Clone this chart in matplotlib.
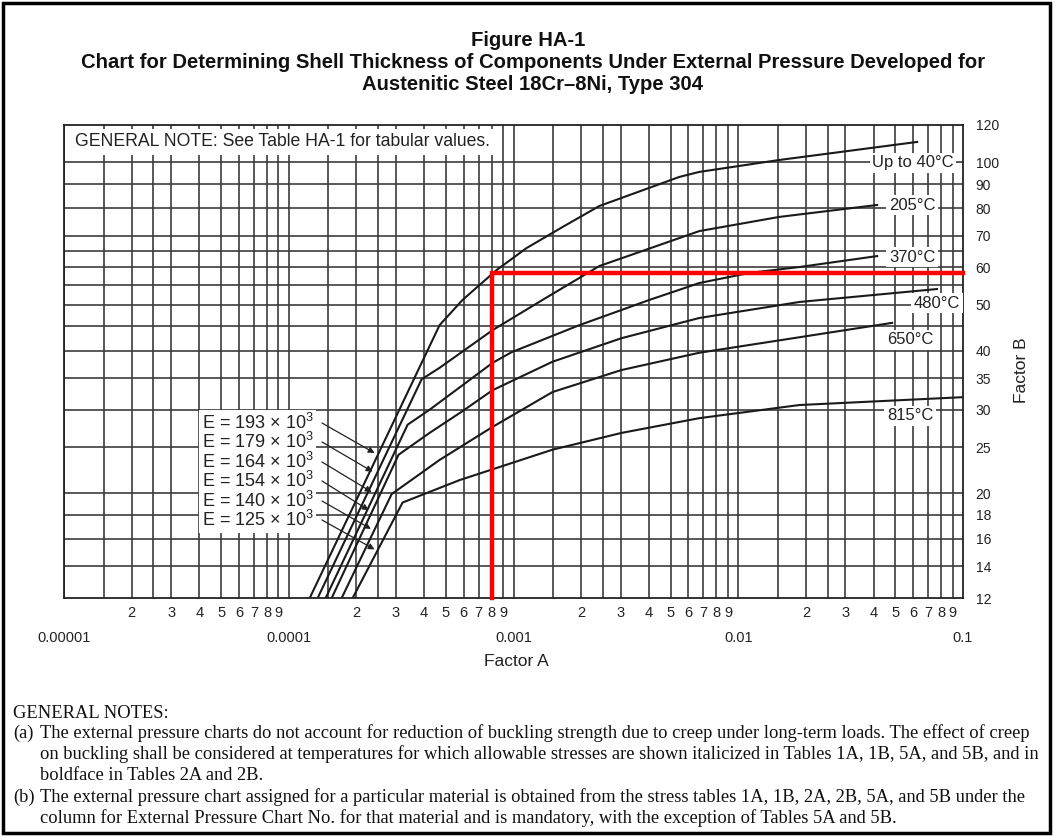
import matplotlib
matplotlib.use("Agg")
import matplotlib.pyplot as plt
from matplotlib.patches import Rectangle
from matplotlib.ticker import NullLocator

plt.rcParams['font.family'] = ['Liberation Sans', 'DejaVu Sans']
plt.rcParams['mathtext.fontset'] = 'custom'
plt.rcParams['mathtext.rm'] = 'Liberation Sans'

W, H = 1057, 836

# axis range
x_min, x_max = 1e-5, 0.1
y_min, y_max = 12, 120

# Factor A / Factor B
a_40 = [1.24e-4, 4.69e-4, 5.93e-4, 8.40e-4, 1.142e-3, 1.65e-3, 2.41e-3, 5.47e-3, 6.71e-3, 1.52e-2, 6.25e-2]
b_40 = [12.0, 45.3, 51.2, 59.2, 65.9, 73.0, 80.9, 93.2, 95.5, 101.2, 110.5]

a_205 = [1.345e-4, 3.90e-4, 4.69e-4, 8.07e-4, 1.345e-3, 2.41e-3, 6.71e-3, 1.52e-2, 4.15e-2]
b_205 = [12.0, 34.8, 36.8, 44.2, 51.2, 60.4, 71.6, 76.7, 81.3]

a_370 = [1.46e-4, 3.38e-4, 4.23e-4, 5.93e-4, 8.07e-4, 9.80e-4, 1.965e-3, 4.02e-3, 6.71e-3, 1.12e-2, 1.87e-2, 4.15e-2]
b_370 = [12.0, 27.9, 30.0, 33.8, 37.7, 39.7, 45.3, 51.2, 55.6, 58.4, 60.1, 63.4]

a_480 = [1.553e-4, 3.08e-4, 4.23e-4, 5.93e-4, 8.07e-4, 1.49e-3, 3.02e-3, 6.71e-3, 1.87e-2, 7.66e-2]
b_480 = [12.0, 24.1, 26.8, 29.8, 33.0, 37.9, 42.5, 46.9, 50.7, 54.0]

a_650 = [1.72e-4, 2.87e-4, 4.69e-4, 8.07e-4, 1.49e-3, 3.02e-3, 6.71e-3, 1.87e-2, 4.84e-2]
b_650 = [12.0, 19.9, 23.5, 27.6, 32.7, 36.4, 39.6, 42.7, 45.8]

a_815 = [1.925e-4, 3.21e-4, 5.75e-4, 1.49e-3, 3.02e-3, 6.71e-3, 1.87e-2, 1.0e-1]
b_815 = [12.0, 19.1, 21.3, 24.7, 26.8, 28.8, 30.7, 31.9]

curves = [(a_40, b_40), (a_205, b_205), (a_370, b_370),
          (a_480, b_480), (a_650, b_650), (a_815, b_815)]

temp_labels = ["Up to 40°C", "205°C", "370°C", "480°C", "650°C", "815°C"]
temp_label_px = [(913, 163), (912, 205), (912, 257), (937, 303), (910, 340), (910, 416)]

e_values = ["193", "179", "164", "154", "140", "125"]
e_tip_a = [2.41e-4, 2.36e-4, 2.34e-4, 2.27e-4, 2.32e-4, 2.41e-4]
e_tip_b = [24.3, 22.2, 20.1, 18.4, 16.8, 15.2]
e_rows = [423, 442, 462, 481, 501, 520]

# red reading lines
red_a = 8.0e-4
red_b = 58.5

decades = [1e-5, 1e-4, 1e-3, 1e-2, 1e-1]
decade_labels = ["0.00001", "0.0001", "0.001", "0.01", "0.1"]
minor_mult = [2, 3, 4, 5, 6, 7, 8, 9]
grid_mult = [1, 1.5, 2, 2.5, 3, 4, 5, 6, 7, 8, 9]
y_ticks = [12, 14, 16, 18, 20, 25, 30, 35, 40, 50, 60, 70, 80, 90, 100, 120]
y_grid = [14, 16, 18, 20, 25, 30, 35, 40, 45, 50, 55, 60, 65, 70, 80, 90, 100]

notes_a = ["The external pressure charts do not account for reduction of buckling strength due to creep under long-term loads. The effect of creep",
           "on buckling shall be considered at temperatures for which allowable stresses are shown italicized in Tables 1A, 1B, 5A, and 5B, and in",
           "boldface in Tables 2A and 2B."]
notes_b = ["The external pressure chart assigned for a particular material is obtained from the stress tables 1A, 1B, 2A, 2B, 5A, and 5B under the",
           "column for External Pressure Chart No. for that material and is mandatory, with the exception of Tables 5A and 5B."]


def fx(px):
    return px / W


def fy(py):
    return 1 - py / H


fig = plt.figure(figsize=(W / 100, H / 100), dpi=100)
ax = fig.add_axes([fx(64), fy(598), (963 - 64) / W, (598 - 125) / H])
ax.set_xscale('log')
ax.set_yscale('log')
ax.set_xlim(x_min, x_max)
ax.set_ylim(y_min, y_max)

gc = '#3c3c3c'
for d in decades[:-1]:
    for m in grid_mult:
        ax.axvline(m * d, color=gc, lw=1.2, zorder=1)
for v in y_grid:
    ax.axhline(v, color=gc, lw=1.2, zorder=1)

for a, b in curves:
    ax.plot(a, b, color='#1a1a1a', lw=1.5, zorder=4)

ax.plot([red_a, red_a, x_max], [y_min, red_b, red_b], color='#ff0000', lw=3.2,
        zorder=6, solid_joinstyle='miter', clip_on=False)

# ticks
ax.set_xticks(decades)
ax.set_xticklabels(decade_labels)
minor_ticks = [m * d for d in decades[:-1] for m in minor_mult]
ax.set_xticks(minor_ticks, minor=True)
ax.set_xticklabels([str(m) for d in decades[:-1] for m in minor_mult], minor=True)
ax.tick_params(axis='x', which='major', length=0, pad=24, labelsize=10.5, colors='#222222')
ax.tick_params(axis='x', which='minor', length=0, pad=6, labelsize=10.5, colors='#222222')

ax.yaxis.tick_right()
ax.set_yticks(y_ticks)
ax.set_yticklabels([str(v) for v in y_ticks])
ax.yaxis.set_minor_locator(NullLocator())
ax.tick_params(axis='y', length=0, pad=9, labelsize=10, colors='#222222')

for s in ax.spines.values():
    s.set_color('#222222')
    s.set_linewidth(1.3)
    s.set_zorder(5)

# labels on the curves
for txt, (px, py) in zip(temp_labels, temp_label_px):
    fig.text(fx(px), fy(py), txt, ha='center', va='center', fontsize=12, color='#222222',
             zorder=7, bbox=dict(boxstyle='square,pad=0.15', fc='white', ec='none'))

# E legend with arrows
for ev, row, ta, tb in zip(e_values, e_rows, e_tip_a, e_tip_b):
    fig.text(fx(202), fy(row), "E = " + ev + " × 10$^{3}$", ha='left', va='center',
             fontsize=13, color='#222222', zorder=7,
             bbox=dict(boxstyle='square,pad=0.15', fc='white', ec='none'))
    ax.annotate('', xy=(ta, tb), xycoords='data',
                xytext=(fx(322), fy(row)), textcoords='figure fraction',
                arrowprops=dict(arrowstyle='-|>', lw=0.9, color='#222222',
                                mutation_scale=9, shrinkA=0, shrinkB=0),
                zorder=7)

fig.text(fx(75), fy(142), "GENERAL NOTE: See Table HA-1 for tabular values.", ha='left',
         va='center', fontsize=12.7, color='#222222', zorder=7,
         bbox=dict(boxstyle='square,pad=0.25', fc='white', ec='none'))

fig.text(fx(516), fy(662), "Factor A", ha='center', va='center', fontsize=12.5, color='#222222')
fig.text(fx(1022), fy(370), "Factor B", ha='center', va='center', fontsize=12.5,
         rotation=90, color='#222222')

# title
tfont = dict(family=['Liberation Sans', 'DejaVu Sans'], weight='bold',
             ha='center', va='center', color='#111111')
fig.text(fx(528), fy(40), "Figure HA-1", fontsize=14.6, **tfont)
fig.text(fx(533), fy(62), "Chart for Determining Shell Thickness of Components Under External Pressure Developed for",
         fontsize=14.6, **tfont)
fig.text(fx(533), fy(85), "Austenitic Steel 18Cr\u20138Ni, Type 304", fontsize=14.6, **tfont)

# general notes
nfont = dict(family=['Liberation Serif', 'DejaVu Serif'], fontsize=13.3, va='center',
             ha='left', color='#111111')
fig.text(fx(13), fy(713), "GENERAL NOTES:", **nfont)
fig.text(fx(13), fy(733), "(a)", **nfont)
for i, line in enumerate(notes_a):
    fig.text(fx(40), fy(733 + 21 * i), line, **nfont)
fig.text(fx(13), fy(797), "(b)", **nfont)
for i, line in enumerate(notes_b):
    fig.text(fx(40), fy(797 + 21 * i), line, **nfont)

fig.patches.append(Rectangle((fx(3), fy(833)), (1050 - 3) / W, (833 - 3) / H,
                             transform=fig.transFigure, fill=False, ec='black', lw=2.5))

fig.savefig("out.png", dpi=100)
